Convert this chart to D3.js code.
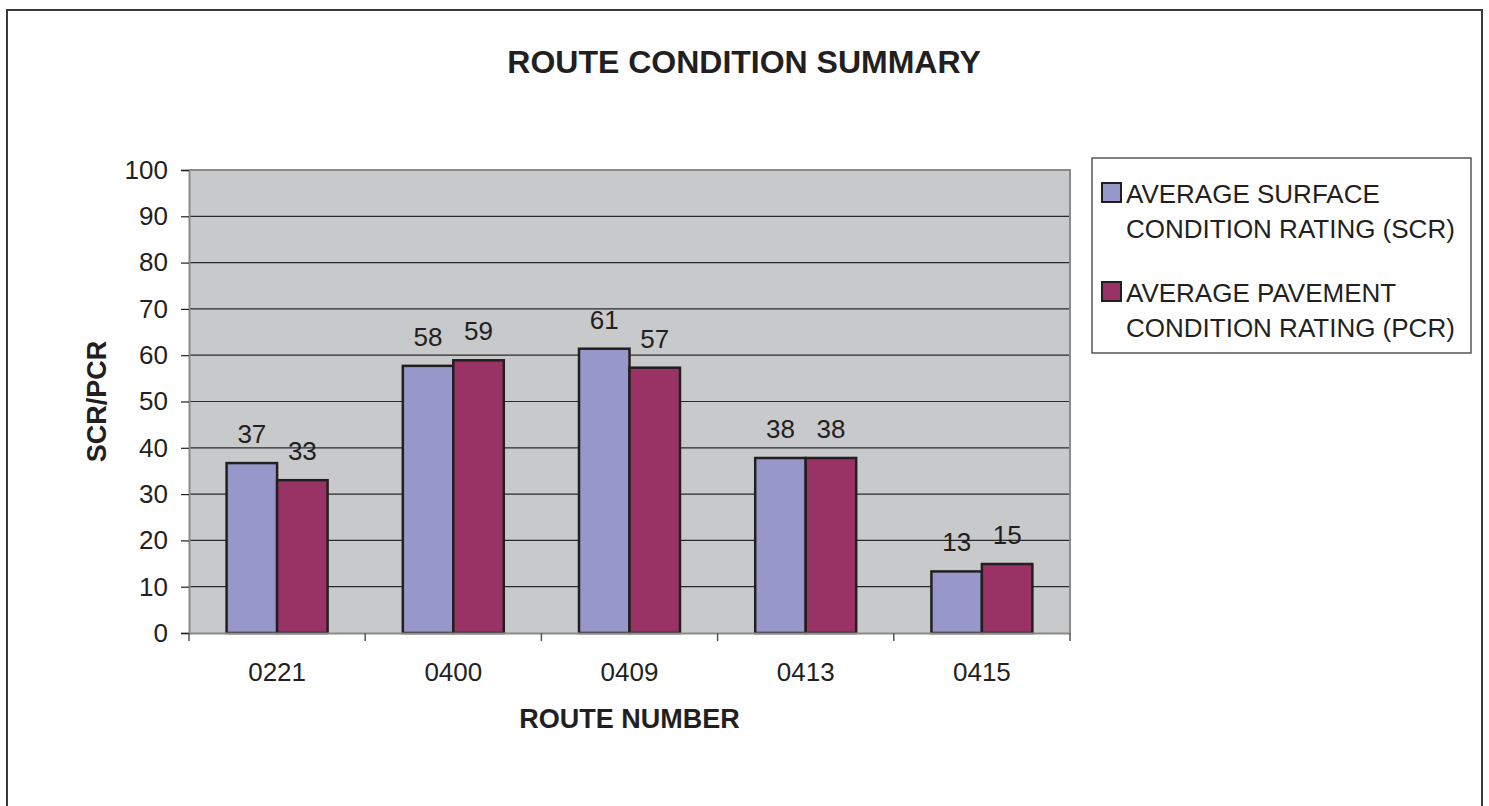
<!DOCTYPE html>
<html>
<head>
<meta charset="utf-8">
<script src="https://cdn.jsdelivr.net/npm/d3@7"></script>
<style>
  body { margin: 0; background: #fff; }
  text { font-family: "Liberation Sans", Arial, sans-serif; fill: #231f20; }
</style>
</head>
<body>
<svg id="chart" width="1489" height="806"></svg>
<script>
// data
const routes = ["0221", "0400", "0409", "0413", "0415"];
const seriesNames = ["AVERAGE SURFACE CONDITION RATING (SCR)", "AVERAGE PAVEMENT CONDITION RATING (PCR)"];
const scrValues = [36.7, 57.7, 61.4, 37.8, 13.3];
const pcrValues = [33.0, 58.9, 57.3, 37.8, 14.9];
const scrLabels = ["37", "58", "61", "38", "13"];
const pcrLabels = ["33", "59", "57", "38", "15"];
const yTicks = [0, 10, 20, 30, 40, 50, 60, 70, 80, 90, 100];

const blue = "#9797CA";
const wine = "#993366";
const plotBg = "#C8C9CB";
const colors = [blue, wine];

const svg = d3.select("#chart");

const plot = { left: 189, right: 1070, top: 170, bottom: 633 };

// outer frame
svg.append("rect")
  .attr("x", 7).attr("y", 10)
  .attr("width", 1475).attr("height", 820)
  .attr("fill", "none")
  .attr("stroke", "#3a3a3a")
  .attr("stroke-width", 2);

// title
svg.append("text")
  .attr("x", 744).attr("y", 73)
  .attr("text-anchor", "middle")
  .style("font-size", "32px")
  .style("font-weight", "bold")
  .text("ROUTE CONDITION SUMMARY");

// scales
const x0 = d3.scaleBand()
  .domain(routes)
  .range([plot.left, plot.right])
  .padding(0);

const x1 = d3.scaleBand()
  .domain([0, 1])
  .range([0, x0.bandwidth()])
  .paddingInner(0)
  .paddingOuter(0.745);

const y = d3.scaleLinear()
  .domain([0, 100])
  .range([plot.bottom, plot.top]);

// plot background
svg.append("rect")
  .attr("x", plot.left).attr("y", plot.top)
  .attr("width", plot.right - plot.left)
  .attr("height", plot.bottom - plot.top)
  .attr("fill", plotBg);

// gridlines
svg.append("g")
  .selectAll("line")
  .data(yTicks.filter(d => d > 0 && d < 100))
  .enter()
  .append("line")
  .attr("x1", plot.left).attr("x2", plot.right)
  .attr("y1", d => y(d)).attr("y2", d => y(d))
  .attr("stroke", "#2a2a2a")
  .attr("stroke-width", 1.2);

// plot border (top / right)
svg.append("path")
  .attr("d", `M${plot.left},${plot.top}H${plot.right}V${plot.bottom}`)
  .attr("fill", "none")
  .attr("stroke", "#8a8a8a")
  .attr("stroke-width", 2);

// bars
const rows = routes.map((r, i) => ({
  route: r,
  vals: [
    { s: 0, v: scrValues[i], label: scrLabels[i] },
    { s: 1, v: pcrValues[i], label: pcrLabels[i] }
  ]
}));

const groups = svg.append("g")
  .selectAll("g")
  .data(rows)
  .enter()
  .append("g")
  .attr("transform", d => `translate(${x0(d.route)},0)`);

groups.selectAll("rect")
  .data(d => d.vals)
  .enter()
  .append("rect")
  .attr("x", d => x1(d.s))
  .attr("y", d => y(d.v))
  .attr("width", x1.bandwidth())
  .attr("height", d => y(0) - y(d.v))
  .attr("fill", d => colors[d.s])
  .attr("stroke", "#231f20")
  .attr("stroke-width", 2.5);

groups.selectAll(".val")
  .data(d => d.vals)
  .enter()
  .append("text")
  .attr("class", "val")
  .attr("x", d => x1(d.s) + x1.bandwidth() / 2)
  .attr("y", d => y(d.v) - 20)
  .attr("text-anchor", "middle")
  .style("font-size", "26px")
  .text(d => d.label);

// y axis
const yAxis = svg.append("g")
  .attr("transform", `translate(${plot.left},0)`)
  .call(d3.axisLeft(y).tickValues(yTicks).tickSize(8).tickPadding(13));
yAxis.select(".domain").attr("stroke", "#8a8a8a").attr("stroke-width", 2);
yAxis.selectAll(".tick line").attr("stroke", "#231f20").attr("stroke-width", 1.2);
yAxis.selectAll(".tick text")
  .style("font-size", "26px")
  .style("font-family", "'Liberation Sans', Arial, sans-serif")
  .attr("fill", "#231f20");

// x axis
const xAxis = svg.append("g")
  .attr("transform", `translate(0,${plot.bottom})`)
  .call(d3.axisBottom(x0).tickSize(0).tickPadding(30));
xAxis.select(".domain").attr("stroke", "#8a8a8a").attr("stroke-width", 2);
xAxis.selectAll(".tick text")
  .style("font-size", "26px")
  .style("font-family", "'Liberation Sans', Arial, sans-serif")
  .attr("fill", "#231f20");

// category boundary ticks
const bounds = routes.map(r => x0(r)).concat([x0(routes[routes.length - 1]) + x0.bandwidth()]);
xAxis.selectAll(".bound")
  .data(bounds)
  .enter()
  .append("line")
  .attr("class", "bound")
  .attr("x1", d => d).attr("x2", d => d)
  .attr("y1", 0).attr("y2", 8)
  .attr("stroke", "#555")
  .attr("stroke-width", 1.5);

// axis titles
svg.append("text")
  .attr("x", (plot.left + plot.right) / 2)
  .attr("y", 728)
  .attr("text-anchor", "middle")
  .style("font-size", "27px")
  .style("font-weight", "bold")
  .text("ROUTE NUMBER");

svg.append("text")
  .attr("transform", `translate(106,${(plot.top + plot.bottom) / 2}) rotate(-90)`)
  .attr("text-anchor", "middle")
  .style("font-size", "27px")
  .style("font-weight", "bold")
  .text("SCR/PCR");

// legend
const legend = svg.append("g");
legend.append("rect")
  .attr("x", 1092).attr("y", 158)
  .attr("width", 379).attr("height", 195)
  .attr("fill", "#fff")
  .attr("stroke", "#555")
  .attr("stroke-width", 1.5);

const legendLines = [
  ["AVERAGE SURFACE", "CONDITION RATING (SCR)"],
  ["AVERAGE PAVEMENT", "CONDITION RATING (PCR)"]
];

legendLines.forEach((lines, i) => {
  const top = 183 + i * 99;
  legend.append("rect")
    .attr("x", 1102).attr("y", top)
    .attr("width", 19).attr("height", 19)
    .attr("fill", colors[i])
    .attr("stroke", "#231f20")
    .attr("stroke-width", 2);
  const t = legend.append("text")
    .attr("x", 1126)
    .attr("y", top + 20)
    .style("font-size", "26px");
  t.append("tspan").attr("x", 1126).text(lines[0]);
  t.append("tspan").attr("x", 1126).attr("dy", 35).text(lines[1]);
});
</script>
</body>
</html>
